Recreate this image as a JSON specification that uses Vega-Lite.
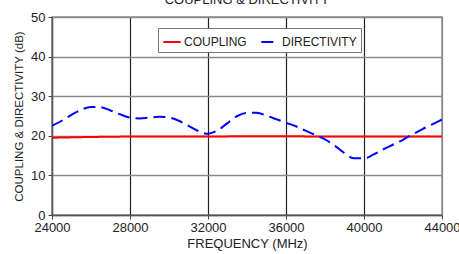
{
  "$schema": "https://vega.github.io/schema/vega-lite/v6.json",
  "width": 390,
  "height": 198,
  "autosize": {"type": "none"},
  "padding": {"left": 52, "top": 17, "right": 17, "bottom": 39},
  "background": "white",
  "title": {"text": "COUPLING & DIRECTIVITY", "offset": 4, "dy": 0, "fontSize": 13, "font": "Liberation Sans", "fontWeight": "normal", "color": "#222", "anchor": "middle"},
  "config": {
    "view": {"stroke": "#8a8a8a", "strokeWidth": 1.5},
    "font": "Liberation Sans"
  },
  "data": {
    "values": [
      {"freq": 24000, "series": "COUPLING", "db": 19.5},
      {"freq": 26000, "series": "COUPLING", "db": 19.7},
      {"freq": 28000, "series": "COUPLING", "db": 19.8},
      {"freq": 30000, "series": "COUPLING", "db": 19.8},
      {"freq": 32000, "series": "COUPLING", "db": 19.8},
      {"freq": 34000, "series": "COUPLING", "db": 19.9},
      {"freq": 36000, "series": "COUPLING", "db": 19.9},
      {"freq": 38000, "series": "COUPLING", "db": 19.8},
      {"freq": 40000, "series": "COUPLING", "db": 19.8},
      {"freq": 42000, "series": "COUPLING", "db": 19.8},
      {"freq": 44000, "series": "COUPLING", "db": 19.8},
      {"freq": 24000, "series": "DIRECTIVITY", "db": 22.5},
      {"freq": 24500, "series": "DIRECTIVITY", "db": 23.8},
      {"freq": 25000, "series": "DIRECTIVITY", "db": 25.3},
      {"freq": 25500, "series": "DIRECTIVITY", "db": 26.6},
      {"freq": 26000, "series": "DIRECTIVITY", "db": 27.3},
      {"freq": 26500, "series": "DIRECTIVITY", "db": 27.2},
      {"freq": 27000, "series": "DIRECTIVITY", "db": 26.4},
      {"freq": 27500, "series": "DIRECTIVITY", "db": 25.4},
      {"freq": 28000, "series": "DIRECTIVITY", "db": 24.6},
      {"freq": 28500, "series": "DIRECTIVITY", "db": 24.4},
      {"freq": 29000, "series": "DIRECTIVITY", "db": 24.6},
      {"freq": 29500, "series": "DIRECTIVITY", "db": 24.8},
      {"freq": 30000, "series": "DIRECTIVITY", "db": 24.6},
      {"freq": 30500, "series": "DIRECTIVITY", "db": 23.8},
      {"freq": 31000, "series": "DIRECTIVITY", "db": 22.5},
      {"freq": 31500, "series": "DIRECTIVITY", "db": 21.2},
      {"freq": 32000, "series": "DIRECTIVITY", "db": 20.5},
      {"freq": 32500, "series": "DIRECTIVITY", "db": 21.4},
      {"freq": 33000, "series": "DIRECTIVITY", "db": 23.2},
      {"freq": 33500, "series": "DIRECTIVITY", "db": 25.0},
      {"freq": 34000, "series": "DIRECTIVITY", "db": 25.8},
      {"freq": 34500, "series": "DIRECTIVITY", "db": 25.8},
      {"freq": 35000, "series": "DIRECTIVITY", "db": 25.1},
      {"freq": 35500, "series": "DIRECTIVITY", "db": 24.2},
      {"freq": 36000, "series": "DIRECTIVITY", "db": 23.3},
      {"freq": 36500, "series": "DIRECTIVITY", "db": 22.4},
      {"freq": 37000, "series": "DIRECTIVITY", "db": 21.3},
      {"freq": 37500, "series": "DIRECTIVITY", "db": 20.2},
      {"freq": 38000, "series": "DIRECTIVITY", "db": 19.1},
      {"freq": 38500, "series": "DIRECTIVITY", "db": 17.5},
      {"freq": 39000, "series": "DIRECTIVITY", "db": 15.6},
      {"freq": 39500, "series": "DIRECTIVITY", "db": 14.3},
      {"freq": 40000, "series": "DIRECTIVITY", "db": 14.3},
      {"freq": 40500, "series": "DIRECTIVITY", "db": 15.3},
      {"freq": 41000, "series": "DIRECTIVITY", "db": 16.6},
      {"freq": 41500, "series": "DIRECTIVITY", "db": 17.8},
      {"freq": 42000, "series": "DIRECTIVITY", "db": 19.0},
      {"freq": 42500, "series": "DIRECTIVITY", "db": 20.4},
      {"freq": 43000, "series": "DIRECTIVITY", "db": 21.7},
      {"freq": 43500, "series": "DIRECTIVITY", "db": 22.9},
      {"freq": 44000, "series": "DIRECTIVITY", "db": 24.1}
    ]
  },
  "mark": {"type": "line", "interpolate": "monotone", "strokeWidth": 2, "clip": true},
  "encoding": {
    "x": {
      "field": "freq", "type": "quantitative",
      "scale": {"domain": [24000, 44000], "nice": false, "zero": false},
      "axis": {
        "title": "FREQUENCY (MHz)", "values": [24000, 28000, 32000, 36000, 40000, 44000],
        "format": "d", "labelFontSize": 13, "labelColor": "#222", "labelPadding": 2, "labelFlush": false,
        "tickSize": 4, "tickColor": "#444", "domainColor": "#555", "domainWidth": 1.5,
        "gridColor": {"condition": {"test": "datum.value == 44000 || datum.value == 24000", "value": "#8a8a8a"}, "value": "#222"},
        "gridWidth": 1.2, "gridOpacity": 1,
        "titleFontSize": 13, "titleFontWeight": "normal", "titleColor": "#222", "titlePadding": 3
      }
    },
    "y": {
      "field": "db", "type": "quantitative",
      "scale": {"domain": [0, 50], "nice": false},
      "axis": {
        "title": "COUPLING & DIRECTIVITY (dB)", "values": [0, 10, 20, 30, 40, 50],
        "labelFontSize": 13, "labelColor": "#222", "labelPadding": 3,
        "tickSize": 4, "tickColor": "#444", "domainColor": "#555", "domainWidth": 1.5,
        "gridColor": "#8a8a8a", "gridWidth": 1.5, "gridOpacity": 1,
        "titleFontSize": 11.5, "titleFontWeight": "normal", "titleColor": "#222", "titlePadding": 6
      }
    },
    "color": {
      "field": "series", "type": "nominal",
      "scale": {"domain": ["COUPLING", "DIRECTIVITY"], "range": ["#ff0000", "#0000ff"]},
      "legend": {
        "title": null, "orient": "none", "legendX": 106, "legendY": 11, "direction": "horizontal",
        "symbolType": "stroke", "symbolSize": 300, "symbolStrokeWidth": 2,
        "labelFontSize": 12, "labelColor": "#222", "labelOffset": 2, "columnPadding": 10,
        "padding": 4, "fillColor": "white", "strokeColor": "#777"
      }
    },
    "strokeDash": {
      "field": "series", "type": "nominal",
      "scale": {"domain": ["COUPLING", "DIRECTIVITY"], "range": [[1, 0], [12, 6]]},
      "legend": null
    }
  }
}
